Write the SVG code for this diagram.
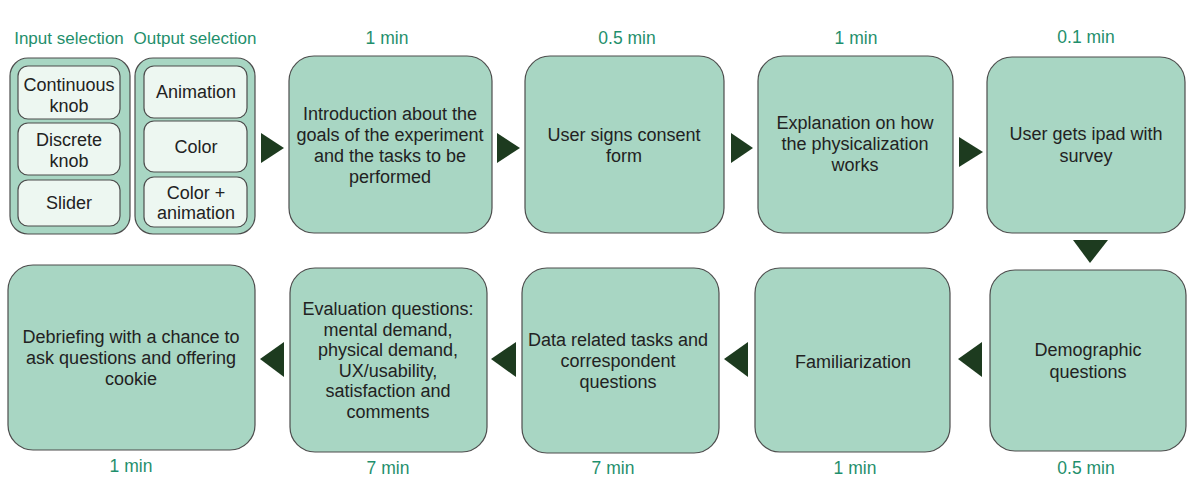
<svg xmlns="http://www.w3.org/2000/svg" width="1194" height="479" viewBox="0 0 1194 479">
<style>
.box{fill:#a8d6c3;stroke:#4d4d4d;stroke-width:1.2}
.inner{fill:#edf7f1;stroke:#4d4d4d;stroke-width:1.2}
.t{font-family:"Liberation Sans",Arial,sans-serif;font-size:18px;fill:#222;text-anchor:middle}
.lbl{font-family:"Liberation Sans",Arial,sans-serif;font-size:17.5px;fill:#1f8f6c;text-anchor:middle}
.hd{font-size:17px}
.arr{fill:#1d3b1f}
</style>
<rect width="1194" height="479" fill="#ffffff"/>

<g id="labels">
<text class="lbl hd" x="69" y="44">Input selection</text>
<text class="lbl hd" x="195" y="44">Output selection</text>
<text class="lbl" x="387" y="44">1 min</text>
<text class="lbl" x="627" y="44">0.5 min</text>
<text class="lbl" x="856" y="44">1 min</text>
<text class="lbl" x="1086" y="43">0.1 min</text>
<text class="lbl" x="131" y="472">1 min</text>
<text class="lbl" x="388" y="474">7 min</text>
<text class="lbl" x="613" y="474">7 min</text>
<text class="lbl" x="855" y="474">1 min</text>
<text class="lbl" x="1086" y="474">0.5 min</text>
</g>

<g id="input-selection">
<rect class="box" x="10" y="58" width="120" height="176" rx="18"/>
<rect class="inner" x="18" y="66" width="102" height="53" rx="10"/>
<text class="t" x="69" y="91">Continuous</text>
<text class="t" x="69" y="112">knob</text>
<rect class="inner" x="18" y="123" width="102" height="52" rx="10"/>
<text class="t" x="69" y="146">Discrete</text>
<text class="t" x="69" y="167">knob</text>
<rect class="inner" x="18" y="180" width="102" height="46" rx="10"/>
<text class="t" x="69" y="209">Slider</text>
</g>

<g id="output-selection">
<rect class="box" x="135" y="58" width="120" height="176" rx="18"/>
<rect class="inner" x="144" y="66" width="103" height="52" rx="10"/>
<text class="t" x="196" y="98">Animation</text>
<rect class="inner" x="144" y="121" width="103" height="51" rx="10"/>
<text class="t" x="196" y="153">Color</text>
<rect class="inner" x="144" y="177" width="103" height="50" rx="10"/>
<text class="t" x="196" y="199">Color +</text>
<text class="t" x="196" y="219">animation</text>
</g>

<g id="n1">
<rect class="box" x="289" y="56" width="203" height="177" rx="25"/>
<text class="t" x="390" y="120">Introduction about the</text>
<text class="t" x="390" y="141">goals of the experiment</text>
<text class="t" x="390" y="162">and the tasks to be</text>
<text class="t" x="390" y="183">performed</text>
</g>
<g id="n2">
<rect class="box" x="525" y="56" width="199" height="177" rx="25"/>
<text class="t" x="624" y="141">User signs consent</text>
<text class="t" x="624" y="162">form</text>
</g>
<g id="n3">
<rect class="box" x="758" y="56" width="195" height="177" rx="25"/>
<text class="t" x="855" y="129">Explanation on how</text>
<text class="t" x="855" y="150">the physicalization</text>
<text class="t" x="855" y="171">works</text>
</g>
<g id="n4">
<rect class="box" x="987" y="57" width="198" height="176" rx="25"/>
<text class="t" x="1086" y="140">User gets ipad with</text>
<text class="t" x="1086" y="162">survey</text>
</g>
<g id="n5">
<rect class="box" x="990" y="270" width="196" height="181" rx="25"/>
<text class="t" x="1088" y="356">Demographic</text>
<text class="t" x="1088" y="378">questions</text>
</g>
<g id="n6">
<rect class="box" x="755" y="268" width="195" height="184" rx="25"/>
<text class="t" x="853" y="368">Familiarization</text>
</g>
<g id="n7">
<rect class="box" x="522" y="268" width="197" height="185" rx="25"/>
<text class="t" x="618" y="346">Data related tasks and</text>
<text class="t" x="618" y="367">correspondent</text>
<text class="t" x="618" y="388">questions</text>
</g>
<g id="n8">
<rect class="box" x="290" y="268" width="197" height="184" rx="25"/>
<text class="t" x="388" y="315">Evaluation questions:</text>
<text class="t" x="388" y="336">mental demand,</text>
<text class="t" x="388" y="356">physical demand,</text>
<text class="t" x="388" y="377">UX/usability,</text>
<text class="t" x="388" y="397">satisfaction and</text>
<text class="t" x="388" y="418">comments</text>
</g>
<g id="n9">
<rect class="box" x="8" y="265" width="247" height="185" rx="25"/>
<text class="t" x="131" y="343">Debriefing with a chance to</text>
<text class="t" x="131" y="364">ask questions and offering</text>
<text class="t" x="131" y="385">cookie</text>
</g>

<g id="connectors">
<polygon class="arr" points="261,133 284,148 261,163"/>
<polygon class="arr" points="497,133 520,148 497,163"/>
<polygon class="arr" points="731,133 753,148 731,163"/>
<polygon class="arr" points="959,137 983,152 959,167"/>
<polygon class="arr" points="1073,240 1108,240 1090,263"/>
<polygon class="arr" points="982,342 958,359 982,377"/>
<polygon class="arr" points="748,342 724,359 748,377"/>
<polygon class="arr" points="516,342 491,359 516,377"/>
<polygon class="arr" points="284,342 260,359 284,377"/>
</g>
</svg>
